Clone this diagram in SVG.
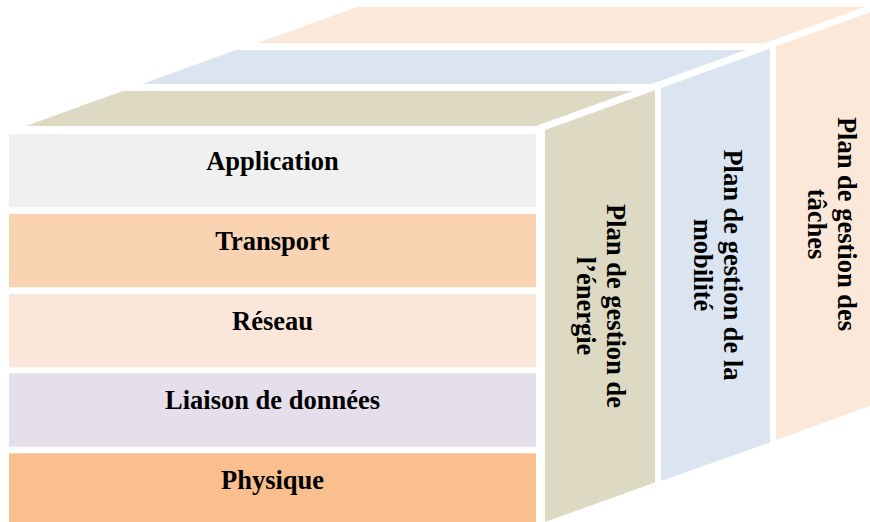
<svg xmlns="http://www.w3.org/2000/svg" width="870" height="522" viewBox="0 0 870 522">
<style>
text{font-family:"Liberation Serif","Times New Roman",serif;font-weight:bold;font-size:26.5px;fill:#000}
.c{text-anchor:middle}
.tan{fill:#ddd9c3}
.blue{fill:#dbe5f1}
.peach{fill:#fce8d9}
</style>
<rect width="870" height="522" fill="#fff"/>
<g id="plane-taches">
<polygon class="peach" points="257,43.3 358,6.7 865,6.7 764,43.3"/>
<polygon class="peach" points="776,46.3 890,5 890,398.7 776,440"/>
<text class="c" transform="translate(838,224) rotate(90)"><tspan x="0" y="0">Plan de gestion des</tspan><tspan x="0" y="30">tâches</tspan></text>
</g>
<g id="plane-mobilite">
<polygon class="blue" points="142,84 235.8,50 745.7,50 651.9,84"/>
<polygon class="blue" points="661,88 770,48.5 770,442.5 661,481"/>
<text class="c" transform="translate(724,265) rotate(90)"><tspan x="0" y="0">Plan de gestion de la</tspan><tspan x="0" y="30">mobilité</tspan></text>
</g>
<g id="plane-energie">
<polygon class="tan" points="26,126 122.6,91 632.6,91 536,126"/>
<polygon class="tan" points="545,130 655,90.2 655,482.5 545,522"/>
<text class="c" transform="translate(607,306) rotate(90)"><tspan x="0" y="0">Plan de gestion de</tspan><tspan x="0" y="30">l’énergie</tspan></text>
</g>
<g id="layer-application">
<rect x="9" y="134" width="527" height="73.3" fill="#f0f0f0"/>
<text class="c" x="272.5" y="170">Application</text>
</g>
<g id="layer-transport">
<rect x="9" y="214" width="527" height="73.3" fill="#fad3b2"/>
<text class="c" x="272.5" y="250">Transport</text>
</g>
<g id="layer-reseau">
<rect x="9" y="294" width="527" height="73.3" fill="#fbe7d9"/>
<text class="c" x="272.5" y="330">Réseau</text>
</g>
<g id="layer-liaison">
<rect x="9" y="373.3" width="527" height="73.4" fill="#e4dfeb"/>
<text class="c" x="272.5" y="409.3">Liaison de données</text>
</g>
<g id="layer-physique">
<rect x="9" y="453.3" width="527" height="75" fill="#f9bf8f"/>
<text class="c" x="272.5" y="489.3">Physique</text>
</g>
<g id="connectors"/>
</svg>
